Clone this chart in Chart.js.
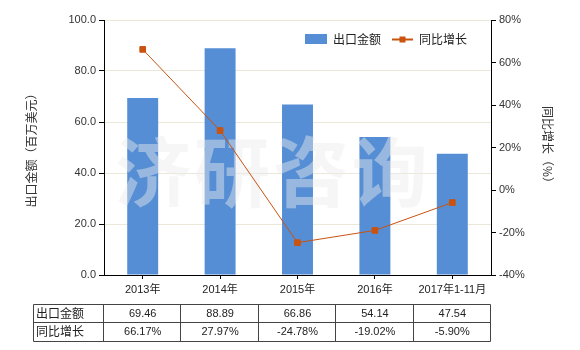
<!DOCTYPE html>
<html>
<head>
<meta charset="utf-8">
<script src="https://cdn.jsdelivr.net/npm/chart.js@4/dist/chart.umd.min.js"></script>
<style>
  html, body { margin: 0; padding: 0; background: #fff; }
  canvas { display: block; }
</style>
</head>
<body>
<canvas id="chart" width="580" height="350"></canvas>
<script>
const categories = ['2013年', '2014年', '2015年', '2016年', '2017年1-11月'];
const exportValues = [69.46, 88.89, 66.86, 54.14, 47.54];
const growthValues = [66.17, 27.97, -24.78, -19.02, -5.90];
const seriesNames = ['出口金额', '同比增长'];
const watermark = '济研咨询';

const BAR_COLOR = '#558ed5';
const LINE_COLOR = '#c9530f';
const FONT = '"Liberation Sans", "Noto Sans CJK SC", sans-serif';
const CJK = '"Noto Sans CJK SC", "Liberation Sans", sans-serif';

// watermark drawn over the bars, under the line
const watermarkPlugin = {
    id: 'watermark',
    afterDatasetDraw(chart, args) {
        if (args.index !== 0) return;
        const ctx = chart.ctx;
        const x = chart.scales.x;
        const step = x.getPixelForValue(1) - x.getPixelForValue(0);
        ctx.save();
        ctx.font = `bold 76px ${CJK}`;
        ctx.fillStyle = 'rgba(236,236,236,0.45)';
        ctx.textAlign = 'center';
        ctx.textBaseline = 'middle';
        const chars = [...watermark];
        chars.forEach((c, i) => {
            ctx.fillText(c, x.left + 49 + i * step * 1.02, 172);
        });
        ctx.restore();
    }
};

// legend + data table
const extrasPlugin = {
    id: 'extras',
    afterDraw(chart) {
        const ctx = chart.ctx;
        ctx.save();

        // legend
        ctx.font = `12px ${CJK}`;
        ctx.textBaseline = 'middle';
        ctx.fillStyle = BAR_COLOR;
        ctx.fillRect(305, 34, 22, 10);
        ctx.fillStyle = '#222';
        ctx.fillText(seriesNames[0], 333, 39);
        ctx.strokeStyle = LINE_COLOR;
        ctx.lineWidth = 2;
        ctx.beginPath();
        ctx.moveTo(392, 39.5);
        ctx.lineTo(413, 39.5);
        ctx.stroke();
        ctx.fillStyle = LINE_COLOR;
        ctx.fillRect(399.5, 36.5, 6, 6);
        ctx.fillStyle = '#222';
        ctx.fillText(seriesNames[1], 419, 39);

        // table
        const x = chart.scales.x;
        const step = x.getPixelForValue(1) - x.getPixelForValue(0);
        const left = 33.5;
        const right = Math.round(x.getPixelForValue(categories.length - 1) + step / 2) - 0.5;
        const rows = [304.5, 322.5, 341.5];
        ctx.strokeStyle = '#444';
        ctx.lineWidth = 1;
        ctx.beginPath();
        rows.forEach(y => { ctx.moveTo(left, y); ctx.lineTo(right, y); });
        ctx.moveTo(left, rows[0]); ctx.lineTo(left, rows[2]);
        for (let i = 0; i <= categories.length; i++) {
            const cx = i === categories.length ? right : Math.round(x.getPixelForValue(i) - step / 2) - 0.5;
            ctx.moveTo(cx, rows[0]); ctx.lineTo(cx, rows[2]);
        }
        ctx.stroke();

        ctx.fillStyle = '#222';
        ctx.textBaseline = 'middle';
        ctx.textAlign = 'left';
        ctx.font = `12px ${CJK}`;
        ctx.fillText(seriesNames[0], 36, 313);
        ctx.fillText(seriesNames[1], 36, 331);
        ctx.textAlign = 'center';
        ctx.font = `11px ${FONT}`;
        categories.forEach((c, i) => {
            const cx = x.getPixelForValue(i);
            ctx.fillText(exportValues[i].toFixed(2), cx, 314);
            ctx.fillText(growthValues[i].toFixed(2) + '%', cx, 332);
        });
        ctx.restore();
    }
};

new Chart(document.getElementById('chart'), {
    type: 'bar',
    data: {
        labels: categories,
        datasets: [
            {
                label: seriesNames[0],
                data: exportValues,
                backgroundColor: BAR_COLOR,
                barPercentage: 0.4,
                categoryPercentage: 1,
                yAxisID: 'y',
                order: 2
            },
            {
                type: 'line',
                label: seriesNames[1],
                data: growthValues,
                borderColor: LINE_COLOR,
                backgroundColor: LINE_COLOR,
                borderWidth: 1,
                pointStyle: 'rect',
                pointRadius: 4,
                pointBorderWidth: 1,
                tension: 0,
                yAxisID: 'y1',
                order: 1
            }
        ]
    },
    options: {
        responsive: false,
        animation: false,
        devicePixelRatio: 1,
        layout: { padding: { top: 20, left: 0, right: 0, bottom: 0 } },
        plugins: {
            legend: { display: false },
            tooltip: { enabled: false }
        },
        scales: {
            x: {
                grid: { drawOnChartArea: false, offset: false, tickColor: '#000', tickLength: 4 },
                border: { color: '#000' },
                ticks: { color: '#222', font: { size: 11, family: FONT }, padding: 4, maxRotation: 0, autoSkip: false },
                afterFit: s => { s.height = 75; }
            },
            y: {
                position: 'left',
                min: 0,
                max: 100,
                ticks: {
                    stepSize: 20,
                    color: '#333',
                    font: { size: 11, family: FONT },
                    padding: 3,
                    callback: v => v.toFixed(1)
                },
                grid: { color: '#ebe8da', tickColor: '#000', tickLength: 5 },
                border: { color: '#000' },
                title: {
                    display: true,
                    text: '出口金额（百万美元）',
                    color: '#333',
                    font: { size: 12, family: CJK },
                    padding: { top: 24, bottom: 0 }
                },
                afterFit: s => { s.width = 104; }
            },
            y1: {
                position: 'right',
                min: -40,
                max: 80,
                ticks: {
                    stepSize: 20,
                    color: '#333',
                    font: { size: 11, family: FONT },
                    padding: 3,
                    callback: v => v + '%'
                },
                grid: { drawOnChartArea: false, tickColor: '#000', tickLength: 5 },
                border: { color: '#000' },
                title: {
                    display: true,
                    text: '同比增长（%）',
                    color: '#333',
                    font: { size: 12, family: CJK },
                    padding: { top: 25, bottom: 0 }
                },
                afterFit: s => { s.width = 89; }
            }
        }
    },
    plugins: [watermarkPlugin, extrasPlugin]
});
</script>
</body>
</html>
